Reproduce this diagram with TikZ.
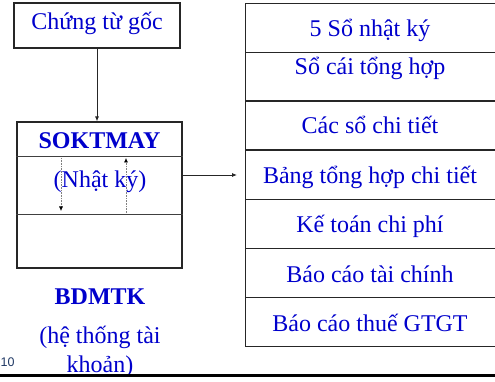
\documentclass[tikz,border=0pt]{standalone}
\usepackage{fontspec}
\setmainfont{Liberation Serif}
\newfontfamily\numfont{Liberation Sans}
\usetikzlibrary{arrows.meta}
\definecolor{txtblue}{RGB}{0,0,204}
\definecolor{numnavy}{RGB}{31,56,100}
\begin{document}
\begin{tikzpicture}[x=1pt,y=-1pt,
  box/.style={draw=black!85,line width=1.2pt,rectangle,inner sep=0pt},
  divider/.style={draw=black!75,line width=1.2pt},
  lbl/.style={text=txtblue,font=\fontsize{24}{28}\selectfont,inner sep=0pt,anchor=base},
  blbl/.style={text=txtblue,font=\fontsize{24}{28}\selectfont\bfseries,inner sep=0pt,anchor=base},
  arr/.style={-{Latex[length=5pt,width=4pt]},line width=0.8pt,draw=black!85},
  dotarr/.style={densely dotted,line width=0.6pt,draw=black!50,-{Latex[length=4.5pt,width=4pt,black]}}]
\useasboundingbox (0,0) rectangle (495,382);
% Chung tu goc
\node[box,minimum width=166pt,minimum height=45pt] (cgoc) at (97,25.5) {};
\node[lbl] (cgoctxt) at (97,30) {Chứng từ gốc};
% SOKTMAY block
\node[box,minimum width=165pt,minimum height=146pt] (sok) at (99.5,195) {};
\draw[divider] ([yshift=-35pt]sok.north west) -- ([yshift=-35pt]sok.north east);
\draw[divider] ([yshift=-93pt]sok.north west) -- ([yshift=-93pt]sok.north east);
\node[blbl] (soktmay) at (99.5,149) {SOKTMAY};
\node[lbl] (nhatky) at (100,188) {(Nhật ký)};
\draw[arr] (cgoc.south) -- (sok.north -| cgoc.south);
% dotted arrows
\coordinate (d1a) at (61,158);
\coordinate (d1b) at (61,211);
\coordinate (d2a) at (126,213);
\coordinate (d2b) at (126,158);
\draw[dotarr] (d1a) -- (d1b);
\draw[dotarr] (d2a) -- (d2b);
% BDMTK
\node[blbl] (bdmtk) at (100,304) {BDMTK};
\node[lbl] (htk1) at (100,343) {(hệ thống tài};
\node[lbl] (htk2) at (100,372) {khoản)};
% arrow to the right
\coordinate (rt) at (237,175);
\draw[arr] (sok.east |- rt) -- (rt);
% right column rows
\foreach \i/\top in {1/3,2/52,3/100,4/150,5/199,6/248,7/297}{
  \node[box,minimum width=253pt,minimum height=49pt,anchor=north west] (r\i) at (245,\top) {};
}
\node[lbl] (t1) at (370,36.5) {5 Sổ nhật ký};
\node[lbl] (t2) at (370,75) {Sổ cái tổng hợp};
\node[lbl] (t3) at (370,133.5) {Các sổ chi tiết};
\node[lbl] (t4) at (370,183.5) {Bảng tổng hợp chi tiết};
\node[lbl] (t5) at (370,233) {Kế toán chi phí};
\node[lbl] (t6) at (370,282) {Báo cáo tài chính};
\node[lbl] (t7) at (370,331) {Báo cáo thuế GTGT};
% page number and bottom rule
\node[text=numnavy,font=\numfont\fontsize{12.5}{14}\selectfont,inner sep=0pt,anchor=base west] (pg) at (0.5,366) {10};
\coordinate (bl) at (0,375.5);
\coordinate (br) at (495,375.5);
\draw[line width=3pt,black] (bl) -- (br);
\end{tikzpicture}
\end{document}
